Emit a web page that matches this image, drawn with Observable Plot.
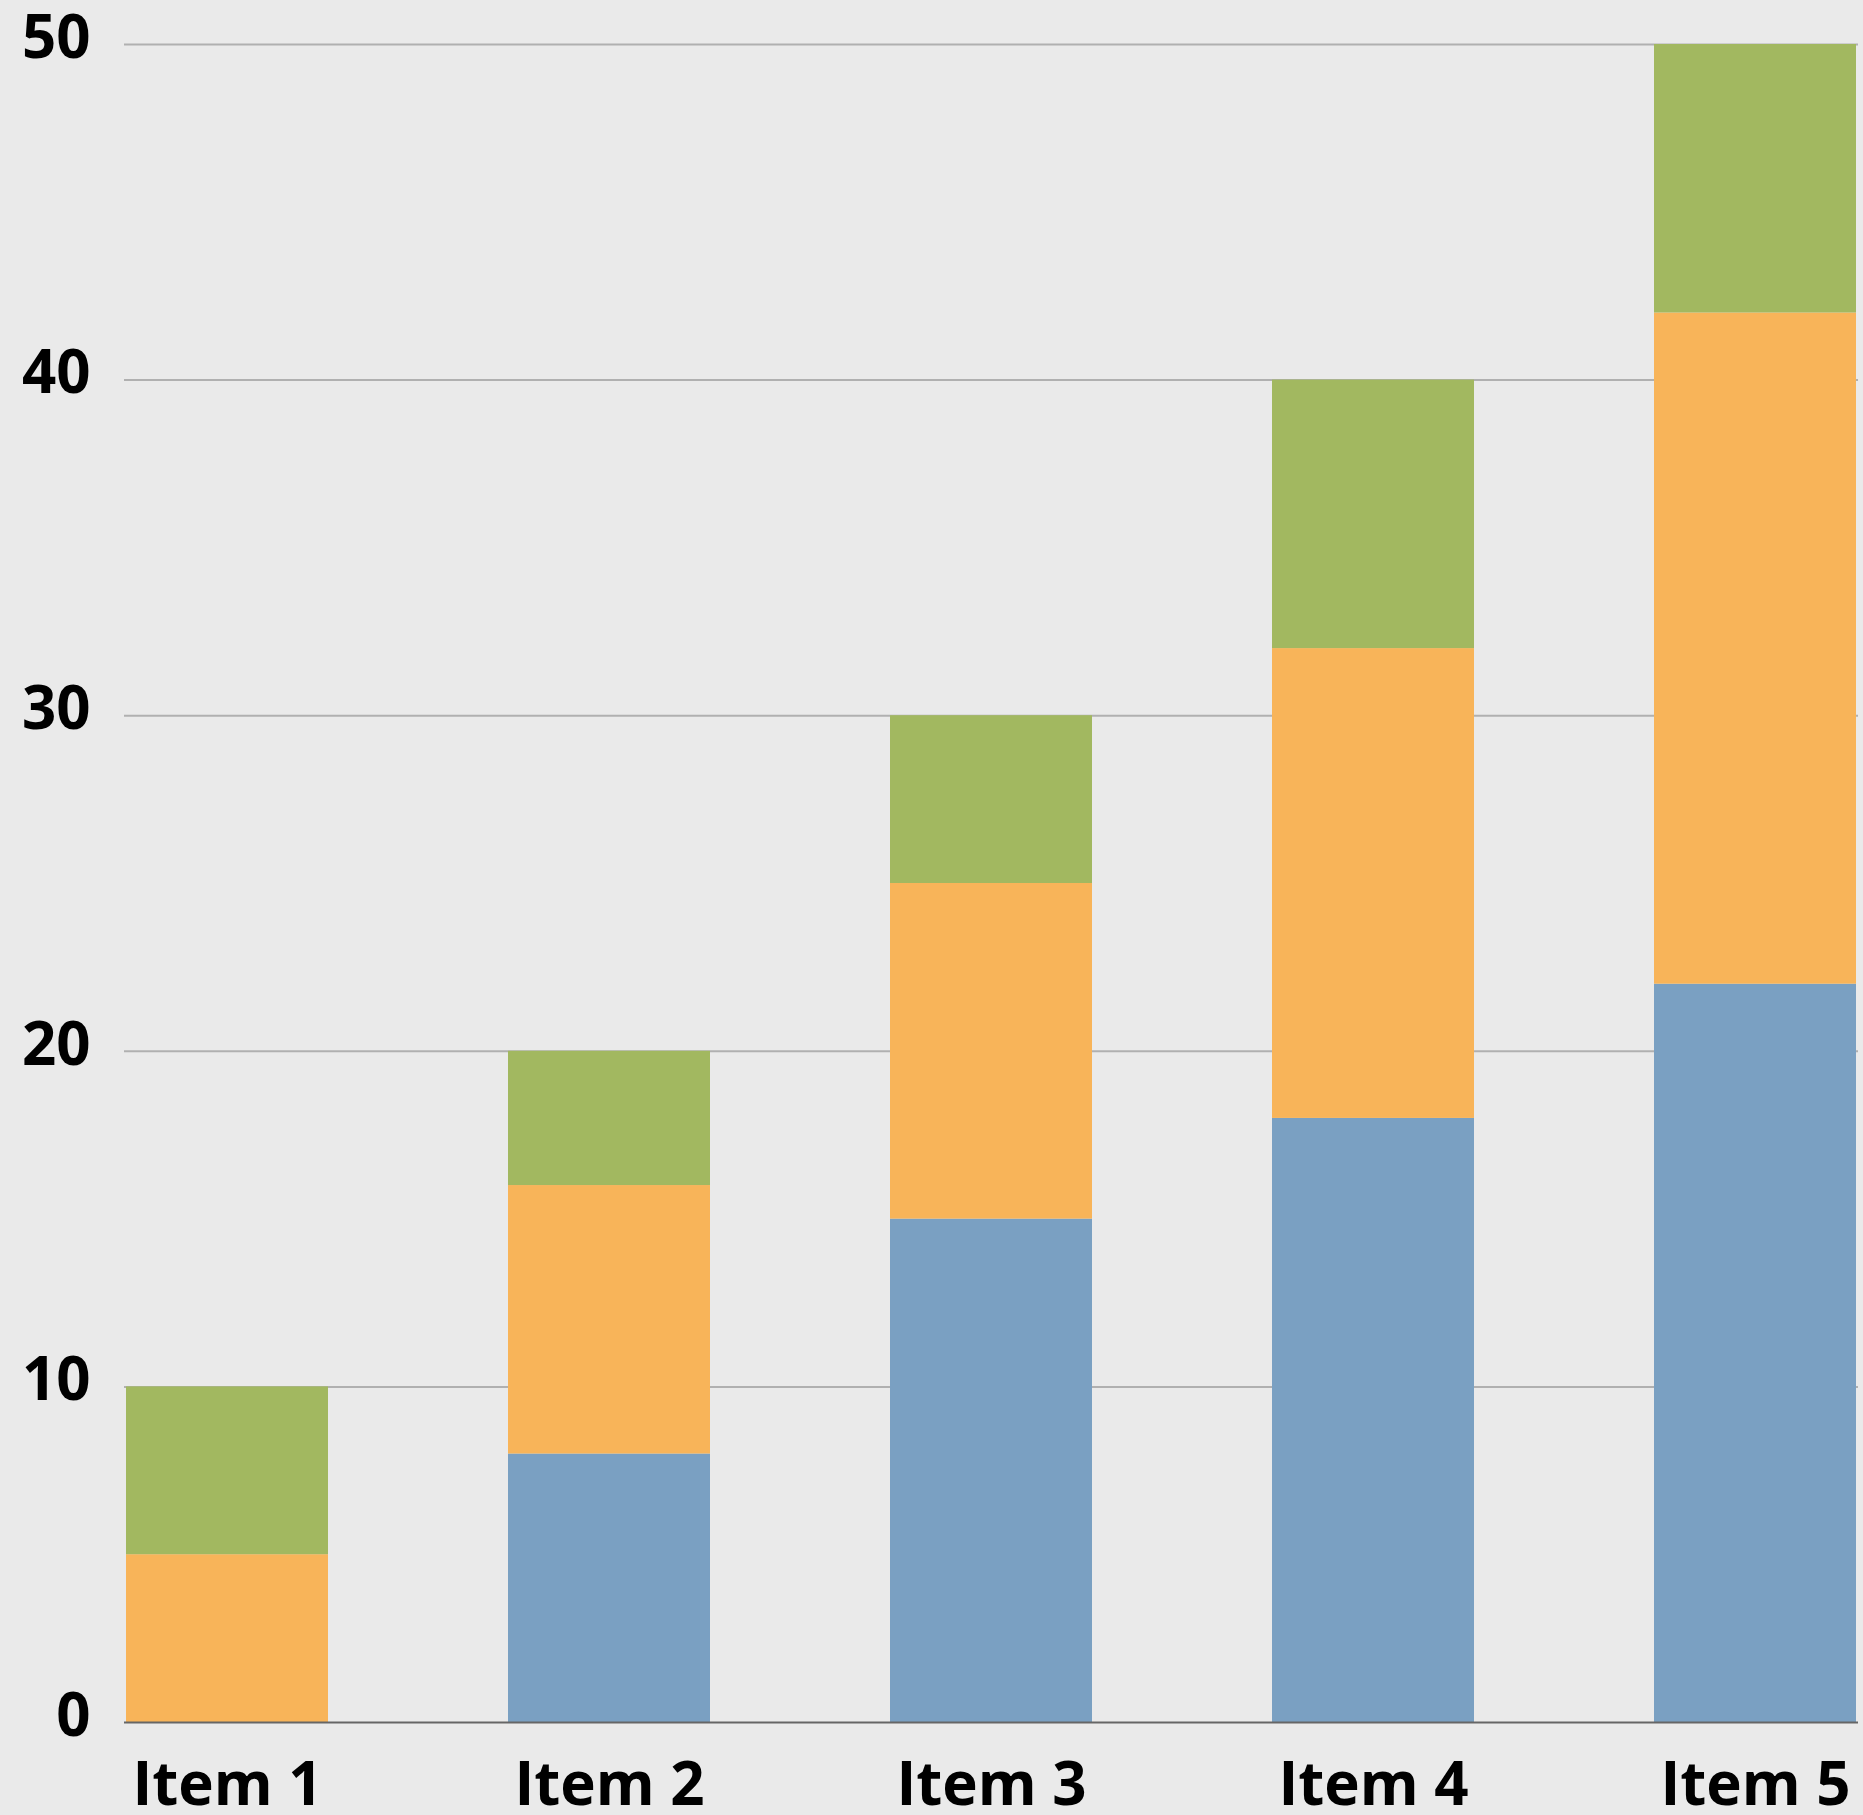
<!DOCTYPE html>
<html>
<head>
<meta charset="utf-8">
<script src="https://cdn.jsdelivr.net/npm/d3@7"></script>
<script src="https://cdn.jsdelivr.net/npm/@observablehq/plot@0.6"></script>
<style>
  html, body { margin: 0; padding: 0; background: #eaeaea; }
  #chart svg { display: block; }
</style>
</head>
<body>
<div id="chart"></div>
<script>
const items = ["Item 1", "Item 2", "Item 3", "Item 4", "Item 5"];
const seriesNames = ["Series A", "Series B", "Series C"];
const seriesA = [0, 8, 15, 18, 22];
const seriesB = [5, 8, 10, 14, 20];
const seriesC = [5, 4, 5, 8, 8];
const seriesColors = ["#7aa0c2", "#f8b459", "#a2b860"];
const yTicks = [0, 10, 20, 30, 40, 50];

const seriesValues = [seriesA, seriesB, seriesC];
const table = [];
seriesNames.forEach((s, si) => {
  items.forEach((it, i) => table.push({item: it, series: s, value: seriesValues[si][i]}));
});

const chart = Plot.plot({
  width: 1863,
  height: 1815,
  marginLeft: 124,
  marginRight: 5,
  marginTop: 44,
  marginBottom: 93,
  style: {background: "#eaeaea", fontFamily: "'Open Sans', sans-serif", fontWeight: "bold", fontSize: "60px", color: "#000"},
  x: {domain: items, paddingInner: 0.47, paddingOuter: 0, label: null},
  y: {domain: [0, 50], label: null},
  color: {domain: seriesNames, range: seriesColors},
  marks: [
    Plot.gridY(yTicks.filter(d => d > 0), {stroke: "#b0b0b0", strokeOpacity: 1, strokeWidth: 2}),
    Plot.barY(table, {x: "item", y: "value", fill: "series", z: "series", inset: 0}),
    Plot.ruleY([0], {stroke: "#666666", strokeWidth: 2}),
    Plot.axisY({ticks: yTicks, tickSize: 0, tickPadding: 34, dy: -6, label: null, fill: "#000", fontWeight: "bold"}),
    Plot.axisX({tickSize: 0, tickPadding: 40, label: null, fill: "#000", fontWeight: "bold"})
  ]
});
document.getElementById("chart").appendChild(chart);
</script>
</body>
</html>
